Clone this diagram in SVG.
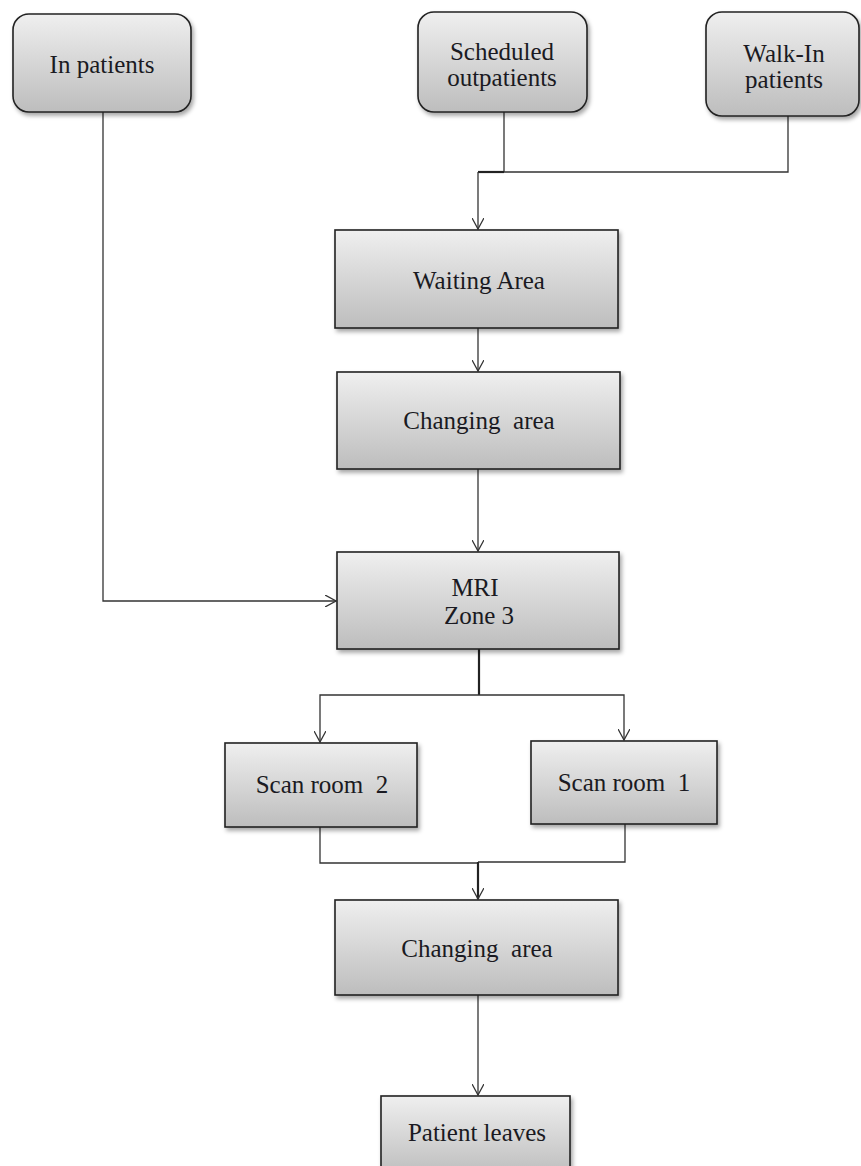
<svg xmlns="http://www.w3.org/2000/svg" width="861" height="1166" viewBox="0 0 861 1166">
<defs>
<linearGradient id="g" x1="0" y1="0" x2="0" y2="1">
<stop offset="0" stop-color="#efefef"/>
<stop offset="1" stop-color="#bdbdbd"/>
</linearGradient>
<filter id="sh" x="-10%" y="-10%" width="130%" height="130%">
<feDropShadow dx="2" dy="3" stdDeviation="2" flood-color="#000" flood-opacity="0.35"/>
</filter>
<marker id="arr" viewBox="0 0 12 12" refX="11" refY="6" markerWidth="12" markerHeight="12" markerUnits="userSpaceOnUse" orient="auto">
<path d="M0,0 L11,6 L0,12" fill="none" stroke="#333" stroke-width="1.3"/>
</marker>
</defs>
<style>
.n{fill:url(#g);stroke:#222;stroke-width:1.6;filter:url(#sh)}
.t{font-family:"Liberation Serif","Times New Roman",serif;font-size:25px;fill:#1a1a22;text-anchor:middle}
.c{fill:none;stroke:#333;stroke-width:1.3}
.k{fill:none;stroke:#222;stroke-width:2.2}
</style>
<rect width="861" height="1166" fill="#fff"/>
<g id="connectors">
<path class="c" d="M103,112 V601 H336" marker-end="url(#arr)"/>
<path class="c" d="M504,112 V172 H788 V116"/>
<path class="k" d="M504,172 H478"/>
<path class="c" d="M478,172 V229" marker-end="url(#arr)"/>
<path class="c" d="M478,328 V371" marker-end="url(#arr)"/>
<path class="c" d="M478,469 V551" marker-end="url(#arr)"/>
<path class="k" d="M479,649 V695"/>
<path class="c" d="M479,695 H320 V742" marker-end="url(#arr)"/>
<path class="c" d="M479,695 H624 V740" marker-end="url(#arr)"/>
<path class="c" d="M320,826 V863 H478"/>
<path class="c" d="M625,824 V862 H478"/>
<path class="k" d="M478,862 V899" marker-end="url(#arr)"/>
<path class="c" d="M478,995 V1095" marker-end="url(#arr)"/>
</g>
<g id="in-patients">
<rect class="n" x="13" y="14" width="178" height="98" rx="16"/>
<text class="t" x="102" y="73">In patients</text>
</g>
<g id="scheduled-outpatients">
<rect class="n" x="418" y="12" width="169" height="100" rx="16"/>
<text class="t" x="502" y="60">Scheduled</text>
<text class="t" x="502" y="86">outpatients</text>
</g>
<g id="walk-in-patients">
<rect class="n" x="706" y="12" width="153" height="104" rx="16"/>
<text class="t" x="784" y="62">Walk-In</text>
<text class="t" x="784" y="88">patients</text>
</g>
<g id="waiting-area">
<rect class="n" x="335" y="230" width="283" height="98"/>
<text class="t" x="479" y="289">Waiting Area</text>
</g>
<g id="changing-area-1">
<rect class="n" x="337" y="372" width="283" height="97"/>
<text class="t" x="479" y="429" xml:space="preserve">Changing  area</text>
</g>
<g id="mri-zone-3">
<rect class="n" x="337" y="552" width="282" height="97"/>
<text class="t" x="475" y="596">MRI</text>
<text class="t" x="479" y="624">Zone 3</text>
</g>
<g id="scan-room-2">
<rect class="n" x="225" y="743" width="192" height="84"/>
<text class="t" x="322" y="793" xml:space="preserve">Scan room  2</text>
</g>
<g id="scan-room-1">
<rect class="n" x="531" y="741" width="186" height="83"/>
<text class="t" x="624" y="791" xml:space="preserve">Scan room  1</text>
</g>
<g id="changing-area-2">
<rect class="n" x="335" y="900" width="283" height="95"/>
<text class="t" x="477" y="957" xml:space="preserve">Changing  area</text>
</g>
<g id="patient-leaves">
<rect class="n" x="381" y="1096" width="189" height="80"/>
<text class="t" x="477" y="1141">Patient leaves</text>
</g>
</svg>
